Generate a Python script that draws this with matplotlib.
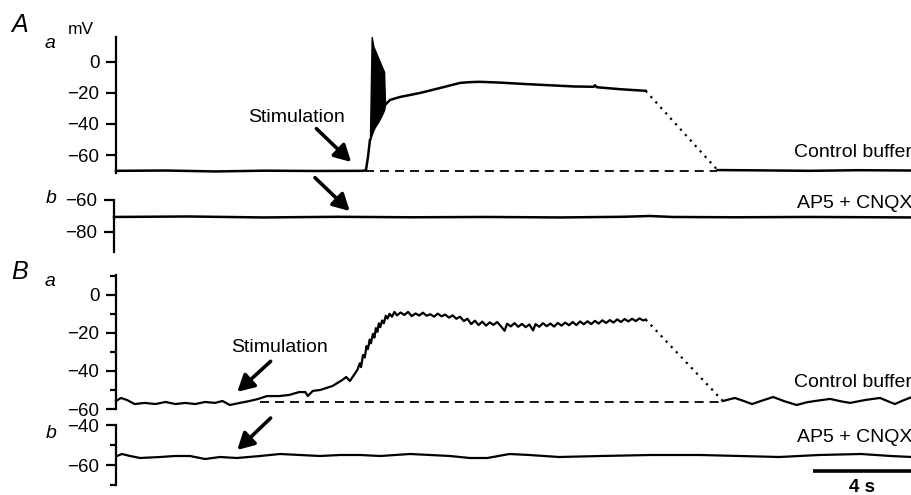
import matplotlib
matplotlib.use("Agg")
import matplotlib.pyplot as plt

plt.rcParams['font.family'] = ['Liberation Sans', 'DejaVu Sans']

# ---- data (time in s, membrane potential in mV) ----
stim_a = 10.06      # stimulation time, panel A
stim_b = 5.8        # stimulation time, panel B
rest_a = -70.0
rest_b = -56.3

# A a : control buffer
aa_t = [0.0, 2.0, 4.0, 6.0, 8.0, 9.98, 10.1, 10.18, 10.26]
aa_v = [-70.2, -70.0, -70.6, -70.1, -70.3, -70.2, -69.7, -61.3, -50.3]
# spike burst envelope
burst_t = [10.26, 10.33, 10.40, 10.46, 10.60, 10.74, 10.83, 10.87]
burst_hi = [-50.3, 16.1, 9.9, 7.7, 2.4, -3.0, -6.3, -27.7]
burst_lo = [-50.3, -47.0, -43.9, -42.0, -38.5, -34.2, -31.0, -27.7]
aa2_t = [10.87, 11.07, 11.47, 12.28, 13.09, 13.9, 14.3, 14.7, 15.5, 16.5,
         17.5, 18.5, 19.3, 19.35, 19.43, 20.4, 21.4]
aa2_v = [-27.7, -24.5, -22.6, -20.0, -16.8, -13.5, -13.0, -12.8, -13.3, -14.2,
         -15.0, -15.8, -16.0, -15.0, -16.3, -17.6, -18.6]
aa3_t = [24.3, 26.0, 28.0, 30.0, 32.16]
aa3_v = [-69.7, -69.9, -70.2, -69.8, -70.0]

# A b : AP5 + CNQX
ab_t = [0.0, 3.0, 6.0, 9.0, 12.0, 15.0, 18.0, 20.5, 21.6, 22.5, 25.0, 28.0, 32.16]
ab_v = [-70.6, -70.3, -70.9, -70.5, -70.8, -70.6, -70.9, -70.5, -70.0, -70.6,
        -70.8, -70.6, -70.9]

# B a : control buffer
ba_t = [0.0, 0.2, 0.45, 0.75, 1.15, 1.6, 2.0, 2.4, 2.8, 3.2, 3.6, 4.0, 4.3, 4.6,
        5.0, 5.4, 5.75, 6.1, 6.6, 7.0, 7.4, 7.65, 7.75, 7.95, 8.25, 8.75, 9.15,
        9.3, 9.45, 9.75, 9.85, 9.9, 9.98, 10.05, 10.12, 10.18, 10.25, 10.3, 10.38,
        10.44, 10.5, 10.56, 10.62, 10.68, 10.75, 10.82, 10.9, 10.97, 11.05, 11.15,
        11.25, 11.35, 11.5, 11.65, 11.8, 11.95, 12.1, 12.25, 12.4, 12.55, 12.7,
        12.85, 13.0, 13.15, 13.3, 13.45, 13.6, 13.75, 13.9, 14.05, 14.2, 14.35,
        14.5, 14.65, 14.8, 14.95, 15.1, 15.25, 15.4, 15.55, 15.7, 15.8, 15.95,
        16.1, 16.25, 16.4, 16.55, 16.7, 16.85, 16.95, 17.1, 17.25, 17.4, 17.55,
        17.7, 17.85, 18.0, 18.15, 18.3, 18.45, 18.6, 18.75, 18.9, 19.05, 19.2,
        19.35, 19.5, 19.65, 19.8, 19.95, 20.1, 20.25, 20.4, 20.55, 20.7, 20.85,
        21.0, 21.15, 21.3, 21.4]
ba_v = [-55.8, -54.2, -55.3, -57.4, -56.8, -57.4, -56.3, -57.4, -56.8, -57.4,
        -56.3, -56.8, -55.8, -57.9, -56.8, -55.8, -54.7, -53.2, -53.2, -52.6,
        -51.1, -51.1, -53.2, -50.5, -50.0, -47.9, -44.7, -43.2, -45.3, -39.5,
        -36.0, -38.0, -31.6, -33.0, -27.0, -28.5, -23.5, -25.5, -20.5, -22.5,
        -17.5, -19.5, -15.0, -17.0, -13.5, -15.0, -11.0, -12.5, -10.0, -11.5,
        -9.0, -10.8, -9.3, -10.6, -9.0, -11.2, -9.8, -10.9, -9.4, -11.0, -10.2,
        -11.5, -9.9, -11.3, -10.4, -12.0, -10.8, -12.6, -11.5, -13.8, -12.6,
        -15.4, -13.6, -15.9, -14.1, -16.2, -14.5, -15.8, -14.3, -16.5, -18.9,
        -15.2, -16.6, -14.9, -16.8, -15.3, -17.0, -15.6, -18.7, -15.4, -16.8,
        -14.9, -16.5, -15.1, -16.7, -14.8, -16.2, -14.6, -16.0, -14.3, -15.9,
        -14.0, -15.5, -13.9, -15.4, -13.7, -15.1, -13.4, -14.8, -13.3, -14.6,
        -12.9, -14.3, -12.7, -14.0, -12.6, -13.8, -12.4, -13.5, -13.0]
ba2_t = [24.52, 25.0, 25.3, 25.7, 26.1, 26.55, 27.0, 27.5, 27.9, 28.24, 28.85,
         29.3, 29.66, 30.3, 30.87, 31.2, 31.47, 31.8, 32.16]
ba2_v = [-55.8, -54.2, -55.5, -57.4, -55.6, -53.7, -55.9, -57.9, -56.5, -55.8,
         -54.7, -56.0, -56.8, -55.2, -54.2, -56.0, -57.4, -55.5, -53.7]

# B b : AP5 + CNQX
bb_t = [0.04, 0.24, 0.57, 0.97, 1.78, 2.38, 2.99, 3.6, 4.2, 4.89, 5.82, 6.63,
        7.43, 8.24, 9.05, 9.86, 10.67, 11.88, 12.69, 13.49, 14.3, 15.0, 15.9,
        16.7, 17.9, 19.6, 21.6, 23.6, 25.2, 26.8, 28.4, 30.1, 31.3, 32.16]
bb_v = [-55.5, -54.5, -55.5, -56.5, -56.0, -55.5, -55.5, -57.0, -56.0, -56.5,
        -55.5, -54.5, -55.0, -55.5, -55.0, -55.0, -55.5, -54.5, -55.0, -55.5,
        -56.5, -56.5, -54.5, -55.0, -56.0, -55.5, -55.0, -55.0, -55.5, -56.0,
        -55.0, -54.5, -55.5, -56.0]

W, H = 912, 495
fig = plt.figure(figsize=(W / 100, H / 100), dpi=100)


def make_axes(left, top, bottom, ylim, major, minor=None):
    ax = fig.add_axes([left / W, (H - bottom) / H, (W - left) / W, (bottom - top) / H])
    ax.set_xlim(0, 32.16)
    ax.set_ylim(*ylim)
    for s in ['top', 'right', 'bottom']:
        ax.spines[s].set_visible(False)
    ax.spines['left'].set_linewidth(1.6)
    ax.set_xticks([])
    ax.set_yticks(major)
    ax.set_yticklabels([f"{m:d}".replace('-', '\u2212') for m in major])
    if minor is not None:
        ax.set_yticks(minor, minor=True)
    ax.tick_params(axis='y', which='major', length=7, width=1.6, pad=5, labelsize=13.5)
    ax.tick_params(axis='y', which='minor', length=4, width=1.6)
    ax.patch.set_alpha(0)
    return ax


ax_aa = make_axes(116, 37, 173, (-71.6, 16.1), [0, -20, -40, -60])
ax_ab = make_axes(114, 200, 252, (-92.5, -60), [-60, -80])
ax_ba = make_axes(116, 275, 409, (-60, 10.4), [0, -20, -40, -60], [10, -10, -30, -50])
ax_bb = make_axes(116, 425, 485, (-70, -40), [-40, -60], [-50, -70])

lw = 1.8
# A a
ax_aa.plot(aa_t, aa_v, color='black', lw=lw, clip_on=False)
ax_aa.fill_between(burst_t, burst_lo, burst_hi, color='black', lw=1.0, clip_on=False)
ax_aa.plot(aa2_t, aa2_v, color='black', lw=lw, clip_on=False)
ax_aa.plot([aa2_t[-1], aa3_t[0]], [aa2_v[-1], aa3_v[0]], color='black',
           lw=1.6, ls=(0, (1, 2.3)))
ax_aa.plot(aa3_t, aa3_v, color='black', lw=lw, clip_on=False)
ax_aa.plot([stim_a, aa3_t[0]], [rest_a, rest_a], color='black', lw=1.3,
           dashes=(5, 3.3), clip_on=False)

# A b
ax_ab.plot(ab_t, ab_v, color='black', lw=lw, clip_on=False)

# B a
ax_ba.plot(ba_t, ba_v, color='black', lw=1.6, clip_on=False)
ax_ba.plot([ba_t[-1], ba2_t[0]], [ba_v[-1], ba2_v[0]], color='black',
           lw=1.6, ls=(0, (1, 2.3)))
ax_ba.plot(ba2_t, ba2_v, color='black', lw=1.6, clip_on=False)
ax_ba.plot([stim_b, ba2_t[0]], [rest_b, rest_b], color='black', lw=1.3,
           dashes=(5, 3.3), clip_on=False)

# B b
ax_bb.plot(bb_t, bb_v, color='black', lw=1.6, clip_on=False)

# stimulation arrows
arrow = dict(arrowstyle='-|>,head_length=0.55,head_width=0.3', lw=2.6,
             color='black', mutation_scale=18, shrinkA=0, shrinkB=0)
ax_aa.annotate('', xy=(9.5, -64.5), xytext=(-25, 24), textcoords='offset points',
               arrowprops=arrow, annotation_clip=False)
ax_ab.annotate('', xy=(9.5, -66.9), xytext=(-25, 24), textcoords='offset points',
               arrowprops=arrow, annotation_clip=False)
ax_ba.annotate('', xy=(4.9, -51.0), xytext=(24, 22), textcoords='offset points',
               arrowprops=arrow, annotation_clip=False)
ax_bb.annotate('', xy=(4.9, -52.5), xytext=(24, 23), textcoords='offset points',
               arrowprops=arrow, annotation_clip=False)

ax_aa.text(7.3, -35.5, 'Stimulation', ha='center', va='center', fontsize=14)
ax_ba.text(6.6, -27.9, 'Stimulation', ha='center', va='center', fontsize=14)

# condition labels
ax_aa.text(1.0, -58.7, 'Control buffer', transform=ax_aa.get_yaxis_transform(),
           ha='right', va='center', fontsize=14, clip_on=False)
ax_ab.text(1.0, -61.9, 'AP5 + CNQX', transform=ax_ab.get_yaxis_transform(),
           ha='right', va='center', fontsize=14, clip_on=False)
ax_ba.text(1.0, -46.3, 'Control buffer', transform=ax_ba.get_yaxis_transform(),
           ha='right', va='center', fontsize=14, clip_on=False)
ax_bb.text(1.0, -46.5, 'AP5 + CNQX', transform=ax_bb.get_yaxis_transform(),
           ha='right', va='center', fontsize=14, clip_on=False)

# time scale bar
ax_bb.plot([28.16, 32.16], [-63, -63], color='black', lw=2.6, clip_on=False,
           solid_capstyle='butt')
ax_bb.text(30.16, -71.5, '4 s', ha='center', va='center', fontsize=13.5,
           fontweight='bold', clip_on=False)

# panel letters
fig.text(20 / W, 1 - 25 / H, 'A', fontsize=18, style='italic', ha='center', va='center')
fig.text(20 / W, 1 - 272 / H, 'B', fontsize=18, style='italic', ha='center', va='center')
fig.text(50 / W, 1 - 43 / H, 'a', fontsize=14, style='italic', ha='center', va='center')
fig.text(51 / W, 1 - 199 / H, 'b', fontsize=14, style='italic', ha='center', va='center')
fig.text(50 / W, 1 - 282 / H, 'a', fontsize=14, style='italic', ha='center', va='center')
fig.text(51 / W, 1 - 434 / H, 'b', fontsize=14, style='italic', ha='center', va='center')
fig.text(68 / W, 1 - 30 / H, 'mV', fontsize=12.5, ha='left', va='center')

fig.savefig('out.png', dpi=100)
